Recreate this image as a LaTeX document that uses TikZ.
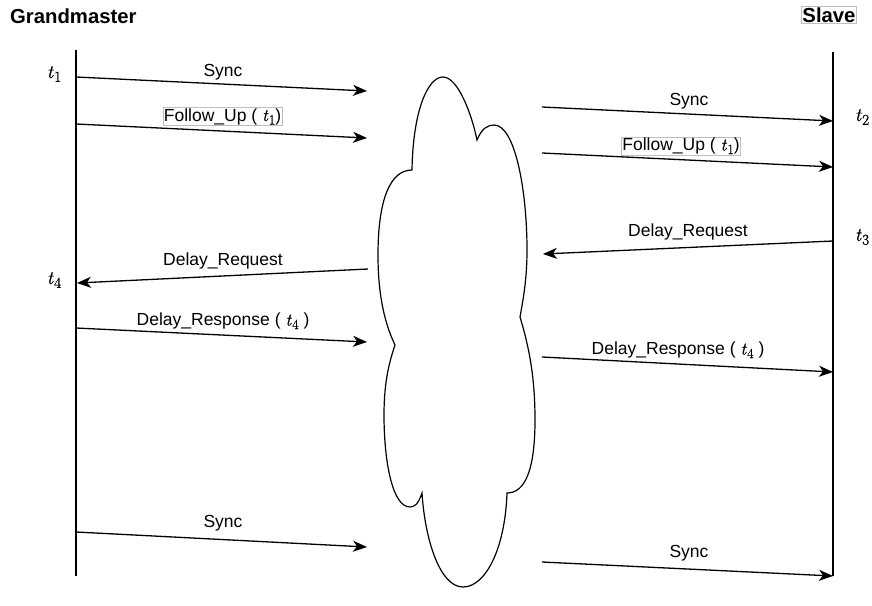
\documentclass[tikz,border=0pt]{standalone}
\usepackage{fontspec}
\setmainfont{Liberation Sans}
\newfontfamily\lmr{Latin Modern Roman}[FakeBold=0.8]
\newcommand\tvar[1]{{\lmr\itshape t}\kern0.06em\raisebox{-0.2em}{\scalebox{0.8}{\lmr #1}}}
\usetikzlibrary{arrows.meta}
\begin{document}
\begin{tikzpicture}[x=1pt,y=-1pt,
  lifeline/.style={line width=1.6pt},
  msg/.style={line width=1.3pt,-{Stealth[length=14pt,width=11pt,inset=4pt]}},
  lbl/.style={font=\fontsize{17.5}{20}\selectfont,inner sep=1pt},
  boxlbl/.style={lbl,draw=black!25,line width=0.5pt},
  title/.style={font=\fontsize{20.3}{24}\selectfont\bfseries,inner sep=1pt},
  tlab/.style={font=\fontsize{19}{22}\selectfont,inner sep=0pt},
  cloudline/.style={line width=1.2pt}]
\useasboundingbox (0,0) rectangle (872,605);

% titles
\node[title,anchor=west] (gm) at (9,16) {Grandmaster};
\node[title,draw=black!25,line width=0.5pt,inner sep=1pt] (sl) at (829,15) {Slave};

% lifelines
\coordinate (Ltop) at (76,50);
\coordinate (Lbot) at (76,576);
\coordinate (Rtop) at (833,52);
\coordinate (Rbot) at (833,576);
\draw[lifeline] (Ltop) -- (Lbot);
\draw[lifeline] (Rtop) -- (Rbot);

% time labels
\node[tlab] (t1) at (54,74) {\tvar{1}};
\node[tlab] (t2) at (862,117) {\tvar{2}};
\node[tlab] (t3) at (862,237) {\tvar{3}};
\node[tlab] (t4) at (54,280) {\tvar{4}};

% cloud
\draw[cloudline] (412,170)
  .. controls (413,110) and (428,77) .. (443,77)
  .. controls (458,77) and (472,115) .. (477,140)
  .. controls (482,128) and (488,125) .. (494,125)
  .. controls (515,125) and (527,190) .. (527,250)
  .. controls (527,280) and (523,300) .. (520,317)
  .. controls (530,350) and (535,380) .. (535,420)
  .. controls (535,470) and (525,493) .. (507,493)
  .. controls (505,550) and (485,587) .. (463,587)
  .. controls (440,587) and (425,540) .. (422,493)
  .. controls (418,505) and (414,507) .. (410,507)
  .. controls (392,507) and (384,460) .. (384,415)
  .. controls (384,380) and (390,360) .. (395,345)
  .. controls (383,320) and (378,290) .. (378,255)
  .. controls (378,200) and (390,170) .. (412,170) -- cycle;

% message end points
\coordinate (a1s) at (76,77);   \coordinate (a1e) at (367,91);
\coordinate (a2s) at (76,124);  \coordinate (a2e) at (367,138);
\coordinate (b1s) at (542,107); \coordinate (b1e) at (833,121);
\coordinate (b2s) at (542,153); \coordinate (b2e) at (833,167);
\coordinate (b3s) at (833,241); \coordinate (b3e) at (543,254);
\coordinate (a3s) at (368,269); \coordinate (a3e) at (77,283);
\coordinate (a4s) at (76,328);  \coordinate (a4e) at (367,342);
\coordinate (b4s) at (542,357); \coordinate (b4e) at (833,372);
\coordinate (a5s) at (76,532);  \coordinate (a5e) at (367,547);
\coordinate (b5s) at (542,562); \coordinate (b5e) at (833,576);

\draw[msg] (a1s) -- (a1e);
\draw[msg] (a2s) -- (a2e);
\draw[msg] (b1s) -- (b1e);
\draw[msg] (b2s) -- (b2e);
\draw[msg] (b3s) -- (b3e);
\draw[msg] (a3s) -- (a3e);
\draw[msg] (a4s) -- (a4e);
\draw[msg] (b4s) -- (b4e);
\draw[msg] (a5s) -- (a5e);
\draw[msg] (b5s) -- (b5e);

% message labels
\node[lbl] (l1) at (223,72) {Sync};
\node[boxlbl] (l2) at (222.5,116.5) {Follow\_Up ( \tvar{1})};
\node[lbl] (l3) at (689,101) {Sync};
\node[boxlbl] (l4) at (681,146) {Follow\_Up ( \tvar{1})};
\node[lbl] (l5) at (688,232) {Delay\_Request};
\node[lbl] (l6) at (223,261) {Delay\_Request};
\node[lbl] (l7) at (223,321) {Delay\_Response ( \tvar{4} )};
\node[lbl] (l8) at (678,350) {Delay\_Response ( \tvar{4} )};
\node[lbl] (l9) at (223,523) {Sync};
\node[lbl] (l10) at (689,553) {Sync};
\end{tikzpicture}
\end{document}
